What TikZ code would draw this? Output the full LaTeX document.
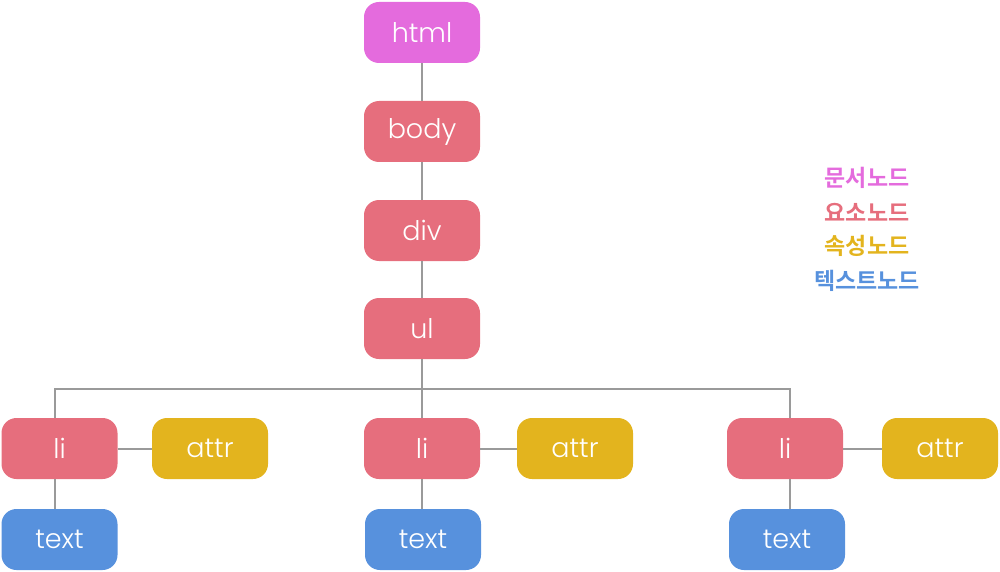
\documentclass[tikz,border=0pt]{standalone}
\usepackage{fontspec}
\setmainfont{Poppins}[UprightFont=*-Light]
\newfontfamily\kor{Noto Sans CJK KR}[BoldFont=* Bold]
\definecolor{cdoc}{HTML}{E46BDD}
\definecolor{celem}{HTML}{E66E7D}
\definecolor{cattr}{HTML}{E3B41E}
\definecolor{ctext}{HTML}{5791DD}
\definecolor{cline}{HTML}{9A9A9A}
\tikzset{
  box/.style={rounded corners=15pt, minimum width=116pt, minimum height=61pt, inner sep=0pt, text=white, font=\fontsize{27}{27}\selectfont},
  doc/.style={box, fill=cdoc},
  elem/.style={box, fill=celem},
  attrb/.style={box, fill=cattr},
  txt/.style={box, fill=ctext},
  conn/.style={draw=cline, line width=2pt},
  leg/.style={font=\kor\bfseries\fontsize{23}{23}\selectfont, inner sep=0pt}
}
\begin{document}
\begin{tikzpicture}[x=1pt,y=-1pt]
\useasboundingbox (0,0) rectangle (1000,572);
\node[doc] (html) at (422,32.5) {html};
\node[elem] (body) at (422,131.5) {body};
\node[elem] (div) at (422,230.5) {div};
\node[elem] (ul) at (422,328.5) {ul};
\node[elem] (li1) at (59.5,448.5) {li};
\node[attrb] (a1) at (210,448.5) {attr};
\node[elem] (li2) at (422,448.5) {li};
\node[attrb] (a2) at (575,448.5) {attr};
\node[elem] (li3) at (785,448.5) {li};
\node[attrb] (a3) at (940,448.5) {attr};
\node[txt] (t1) at (59.5,539.5) {text};
\node[txt] (t2) at (423,539.5) {text};
\node[txt] (t3) at (787,539.5) {text};
\coordinate (bar) at (422,389);
\begin{scope}[on background layer/.try]
\draw[conn] (html) -- (body);
\draw[conn] (body) -- (div);
\draw[conn] (div) -- (ul);
\draw[conn] (ul.south) -- (bar);
\draw[conn] ([xshift=-4.5pt]li1.north) |- (bar);
\draw[conn] ([xshift=5pt]li3.north) |- (bar);
\draw[conn] (bar) -- (li2.north);
\draw[conn] (li1) -- (a1);
\draw[conn] (li2) -- (a2);
\draw[conn] (li3) -- (a3);
\draw[conn] ([xshift=-4.5pt]li1.south) -- ([xshift=-4.5pt]li1.south |- t1.north);
\draw[conn] (li2.south) -- (li2.south |- t2.north);
\draw[conn] ([xshift=5pt]li3.south) -- ([xshift=5pt]li3.south |- t3.north);
\end{scope}
\node[leg, text=cdoc] (l1) at (867,178) {문서노드};
\node[leg, text=celem] (l2) at (867,212) {요소노드};
\node[leg, text=cattr] (l3) at (867,246) {속성노드};
\node[leg, text=ctext] (l4) at (867,281) {텍스트노드};
\end{tikzpicture}
\end{document}
